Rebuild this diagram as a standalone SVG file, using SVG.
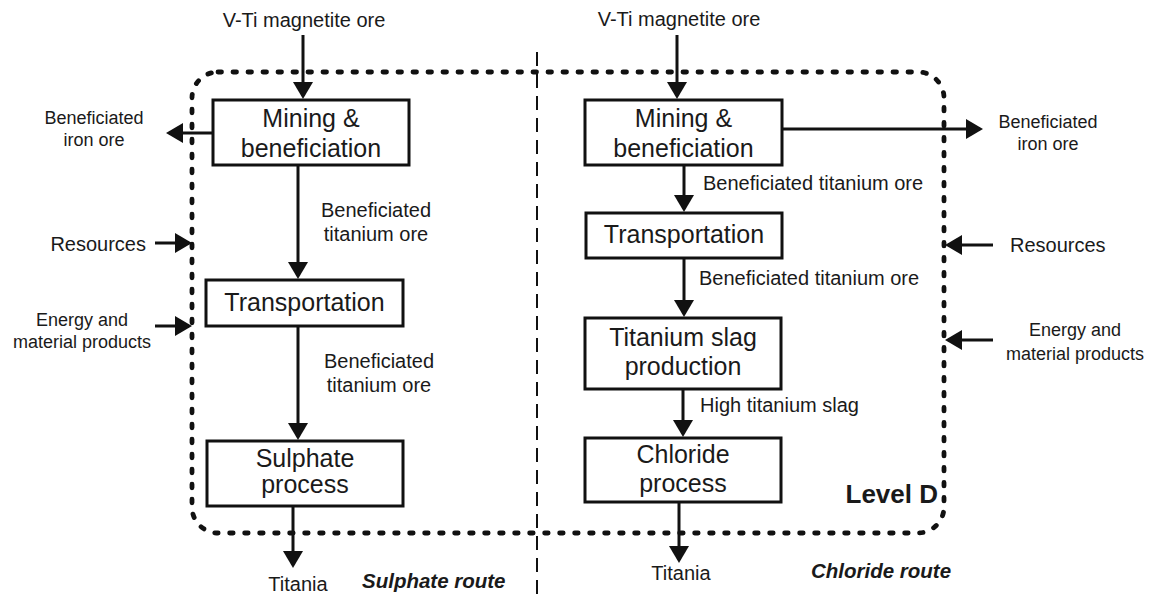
<svg xmlns="http://www.w3.org/2000/svg" width="1149" height="594" viewBox="0 0 1149 594">
<style>
text{font-family:"Liberation Sans",Arial,sans-serif;fill:#1a1a1a}
.box{fill:#fff;stroke:#111;stroke-width:3}
.bt{font-size:25px;text-anchor:middle}
.lb{font-size:20px}
.sm{font-size:18px;text-anchor:middle}
.c{text-anchor:middle}
.conn path{fill:none;stroke:#111;stroke-width:3;marker-end:url(#ah)}
.route{font-size:20.5px;font-weight:bold;font-style:italic}
</style>
<defs>
<marker id="ah" markerUnits="userSpaceOnUse" markerWidth="17" markerHeight="20" viewBox="0 0 17 20" refX="14" refY="10" orient="auto">
<path d="M0,0 L17,10 L0,20 Z" fill="#111"/>
</marker>
</defs>
<rect id="level-d-boundary" x="192" y="72" width="752" height="461" rx="26" fill="none" stroke="#111" stroke-width="4.8" stroke-dasharray="3.5 11.5" stroke-linecap="round"/>
<line id="route-divider" x1="537" y1="52" x2="537" y2="594" stroke="#111" stroke-width="2" stroke-dasharray="14 8"/>
<g id="left-mining"><rect class="box" x="213" y="100" width="196" height="65"/><text class="bt" x="311" y="127">Mining &amp;</text><text class="bt" x="311" y="157">beneficiation</text></g>
<g id="left-transport"><rect class="box" x="206" y="280" width="197" height="46"/><text class="bt" x="304.5" y="311">Transportation</text></g>
<g id="sulphate"><rect class="box" x="207" y="441" width="196" height="65"/><text class="bt" x="305" y="467">Sulphate</text><text class="bt" x="305" y="493">process</text></g>
<g id="right-mining"><rect class="box" x="585" y="100" width="197" height="65"/><text class="bt" x="683.5" y="127">Mining &amp;</text><text class="bt" x="683.5" y="157">beneficiation</text></g>
<g id="right-transport"><rect class="box" x="586" y="213" width="196" height="45"/><text class="bt" x="684" y="243">Transportation</text></g>
<g id="slag"><rect class="box" x="585" y="318" width="196" height="71"/><text class="bt" x="683" y="346">Titanium slag</text><text class="bt" x="683" y="375">production</text></g>
<g id="chloride"><rect class="box" x="585" y="438" width="196" height="64"/><text class="bt" x="683" y="463">Chloride</text><text class="bt" x="683" y="492">process</text></g>
<g class="conn" id="connectors">
<path d="M303,35 V96"/>
<path d="M677,35 V96"/>
<path d="M213,133 H169"/>
<path d="M782,129 H980"/>
<path d="M155,243 H189"/>
<path d="M155,326 H189"/>
<path d="M993,245 H948"/>
<path d="M993,340 H948"/>
<path d="M298,165 V276"/>
<path d="M298,326 V437"/>
<path d="M293,506 V565"/>
<path d="M684,165 V209"/>
<path d="M684,258 V314"/>
<path d="M683,389 V434"/>
<path d="M679,502 V560"/>
</g>
<g id="labels">
<text class="lb c" x="304" y="27">V-Ti magnetite ore</text>
<text class="lb c" x="679" y="26">V-Ti magnetite ore</text>
<text class="sm" x="94" y="124">Beneficiated</text>
<text class="sm" x="94" y="146">iron ore</text>
<text class="sm" x="1048" y="128">Beneficiated</text>
<text class="sm" x="1048" y="150">iron ore</text>
<text class="lb" x="146" y="251" text-anchor="end">Resources</text>
<text class="lb" x="1010" y="252">Resources</text>
<text class="sm" x="82" y="326">Energy and</text>
<text class="sm" x="82" y="348">material products</text>
<text class="sm" x="1075" y="336">Energy and</text>
<text class="sm" x="1075" y="360">material products</text>
<text class="lb c" x="376" y="217">Beneficiated</text>
<text class="lb c" x="376" y="241">titanium ore</text>
<text class="lb c" x="379" y="368">Beneficiated</text>
<text class="lb c" x="379" y="392">titanium ore</text>
<text class="lb" x="703" y="190">Beneficiated titanium ore</text>
<text class="lb" x="699" y="285">Beneficiated titanium ore</text>
<text class="lb" x="700" y="412">High titanium slag</text>
<text class="lb c" x="298" y="591">Titania</text>
<text class="lb c" x="681" y="580">Titania</text>
<text class="route" x="362" y="588">Sulphate route</text>
<text class="route" x="811" y="578">Chloride route</text>
<text x="938" y="503" text-anchor="end" style="font-size:26px;font-weight:bold">Level D</text>
</g>
</svg>
